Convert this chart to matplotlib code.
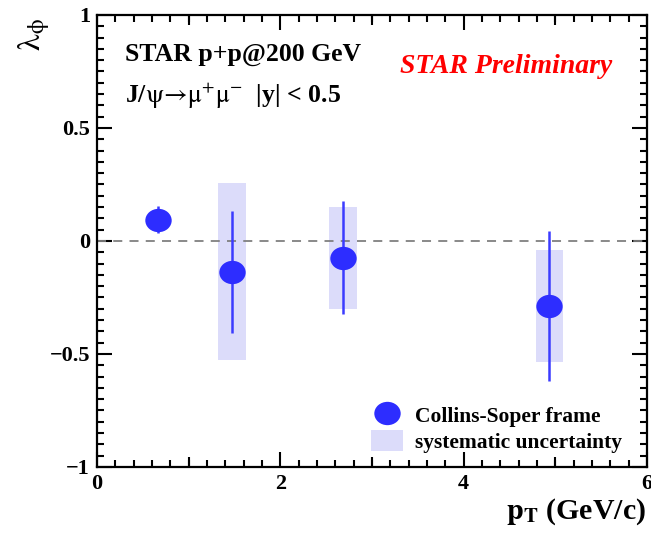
import matplotlib

matplotlib.use("Agg")
import matplotlib.pyplot as plt
import numpy as np
from matplotlib.lines import Line2D
from matplotlib.patches import Patch
from matplotlib.path import Path
from matplotlib.ticker import MultipleLocator
from matplotlib.transforms import Affine2D

# * data
pt = np.array([0.67, 1.47, 2.68, 4.93])
lam_phi = np.array([0.093, -0.137, -0.075, -0.288])
stat_err = np.array([0.06, 0.27, 0.25, 0.33])
sys_lo = np.array([0.065, -0.527, -0.30, -0.535])
sys_hi = np.array([0.12, 0.257, 0.15, -0.04])
sys_x_lo = np.array([0.60, 1.32, 2.53, 4.79])
sys_x_hi = np.array([0.74, 1.62, 2.84, 5.08])

plt.rcParams["font.family"] = ["Liberation Serif", "DejaVu Serif"]
plt.rcParams["mathtext.fontset"] = "stix"

fig = plt.figure(figsize=(6.51, 5.33), dpi=100)
ax = fig.add_axes([0.149, 0.124, 0.845, 0.848])

blue = "#2d2dff"
box_color = "#dcdcfa"
ellipse = Path.unit_circle().transformed(Affine2D().scale(1.13, 1.0))

# systematic boxes
for x0, x1, y0, y1 in zip(sys_x_lo, sys_x_hi, sys_lo, sys_hi, strict=True):
    ax.fill_between([x0, x1], [y0, y0], [y1, y1], color=box_color, lw=0, zorder=1)

ax.axhline(0, color="0.5", ls=(0, (5, 4)), lw=1.3, zorder=2)

ax.errorbar(pt, lam_phi, yerr=stat_err, fmt="none", ecolor="#3b3bff", elinewidth=1.8, zorder=3)
ax.plot(pt, lam_phi, ls="none", marker=ellipse, color=blue, markersize=19, mec="none", zorder=4)

ax.set_xlim(0, 6)
ax.set_ylim(-1, 1)

# ROOT-like ticks
ax.xaxis.set_major_locator(MultipleLocator(2))
ax.xaxis.set_minor_locator(MultipleLocator(0.2))
ax.yaxis.set_major_locator(MultipleLocator(0.5))
ax.yaxis.set_minor_locator(MultipleLocator(0.05))
ax.tick_params(which="both", direction="in", top=True, right=True, width=1.5)
ax.tick_params(which="major", length=11, pad=5)
ax.tick_params(which="minor", length=5)
ax.set_yticks([-1, -0.5, 0, 0.5, 1], ["\u22121", "\u22120.5", "0", "0.5", "1"])
for lbl in ax.get_xticklabels() + ax.get_yticklabels():
    lbl.set_fontweight("bold")
    lbl.set_fontsize(16)
for sp in ax.spines.values():
    sp.set_linewidth(1.6)

# medium ticks at odd integers
for loc in ("bottom", "top"):
    sec = ax.secondary_xaxis(loc)
    sec.set_xticks([1, 3, 5], ["", "", ""])
    sec.tick_params(direction="in", length=7.5, width=1.5)
    sec.spines[loc].set_visible(False)

fig.text(0.052, 0.935, r"$\mathrm{\lambda}_{\mathrm{\phi}}$", fontsize=24, rotation=90,
         ha="center", va="center")
fig.text(0.993, 0.012, r"$\mathbf{p}_{\mathbf{T}}$ (GeV/c)", ha="right", va="bottom",
         fontsize=21.5, fontweight="bold")

ax.text(0.05, 0.912, "STAR p+p@200 GeV", transform=ax.transAxes, fontsize=18.5,
        fontweight="bold", va="center")
ax.text(0.05, 0.821,
        r"J/$\mathrm{\psi}\!\rightarrow\!\mathrm{\mu}^{+}\mathrm{\mu}^{-}$  |y| < 0.5",
        transform=ax.transAxes, fontsize=18.5, fontweight="bold", va="center")
ax.text(0.55, 0.885, "STAR Preliminary", transform=ax.transAxes, fontsize=20,
        fontweight="bold", style="italic", color="red", va="center")

handles = [
    Line2D([], [], ls="none", marker=ellipse, color=blue, markersize=19, mec="none"),
    Patch(facecolor=box_color, edgecolor="none"),
]
ax.legend(handles, ["Collins-Soper frame", "systematic uncertainty"], loc="lower right",
          bbox_to_anchor=(0.99, -0.012), frameon=False, prop={"size": 15.5, "weight": "bold"},
          handlelength=1.5, handleheight=1.1, labelspacing=0.15, handletextpad=0.55)

fig.savefig("out.png", dpi=100)
